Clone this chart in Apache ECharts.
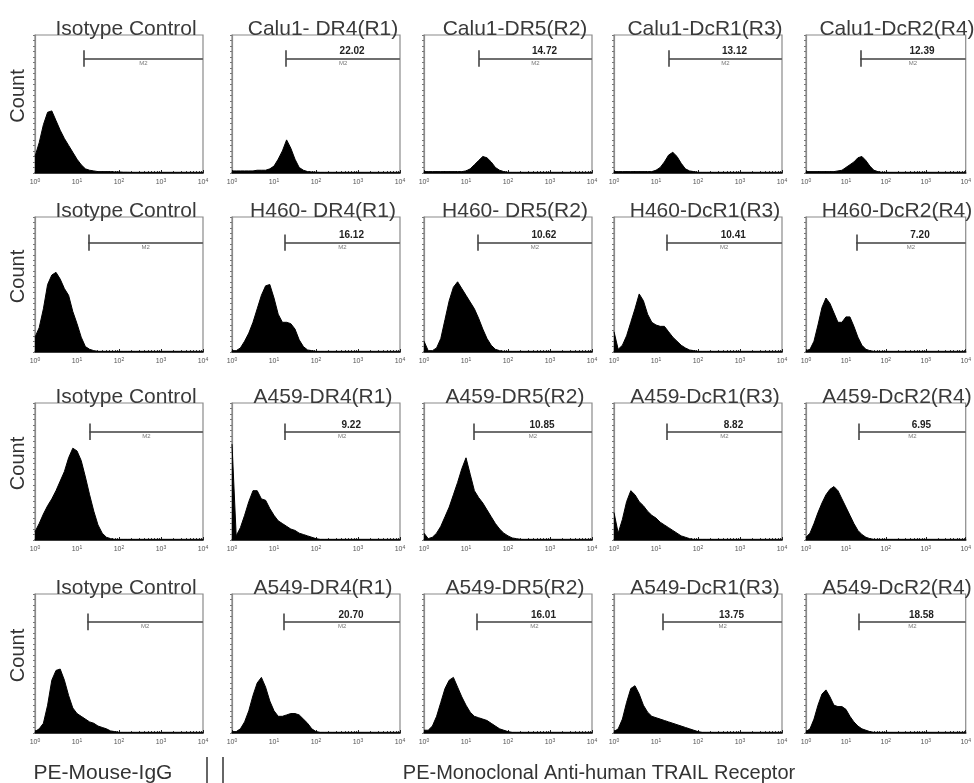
<!DOCTYPE html>
<html><head><meta charset="utf-8">
<script src="https://cdn.jsdelivr.net/npm/echarts@6/dist/echarts.min.js"></script>
<style>html,body{margin:0;padding:0;background:#fff}#c{width:974px;height:783px}</style>
</head><body><div id="c"></div><script>
// fluorescence channels (PE intensity), log spaced, plus axis end
const channels = [1, 1.259, 1.585, 1.995, 2.512, 3.162, 3.981, 5.012, 6.310, 7.943, 10, 12.59, 15.85, 19.95, 25.12, 31.62, 39.81, 50.12, 63.10, 79.43, 100, 125.9, 158.5, 199.5, 251.2, 316.2, 10000];
const xTickValues = [1, 10, 100, 1000, 10000];

// row titles
const titlesCalu1 = ['Isotype Control','Calu1- DR4(R1)','Calu1-DR5(R2)','Calu1-DcR1(R3)','Calu1-DcR2(R4)'];
const titlesH460  = ['Isotype Control','H460- DR4(R1)','H460- DR5(R2)','H460-DcR1(R3)','H460-DcR2(R4)'];
const titlesA459  = ['Isotype Control','A459-DR4(R1)','A459-DR5(R2)','A459-DcR1(R3)','A459-DcR2(R4)'];
const titlesA549  = ['Isotype Control','A549-DR4(R1)','A549-DR5(R2)','A549-DcR1(R3)','A549-DcR2(R4)'];

// percent positive in M2 gate
const pctCalu1 = ['', '22.02', '14.72', '13.12', '12.39'];
const pctH460  = ['', '16.12', '10.62', '10.41', '7.20'];
const pctA459  = ['', '9.22', '10.85', '8.82', '6.95'];
const pctA549  = ['', '20.70', '16.01', '13.75', '18.58'];

// M2 gate start (fluorescence)
const gateCalu1 = [14.5, 19.5, 20.4, 20.4, 22.9];
const gateH460  = [18.6, 18.2, 19.1, 17.8, 18.2];
const gateA459  = [20.0, 17.8, 15.5, 18.2, 21.4];
const gateA549  = [17.8, 17.4, 18.2, 14.8, 21.4];
const gateLevel = [83, 81, 79, 80]; // count level of gate bar per row
const gateLabel = 'M2';

// histogram counts (relative, % of panel full scale) per channel
const calu1Iso  = [12,22,35,44,45,38,31,25,20,15,10,6,3,2,1.5,1,1,1,1,0.8,0.8,0.6,0.6,0.5,0.5,0.5,0.5];
const calu1DR4  = [1.5,1.5,1.5,1.5,1.5,1.5,2,2,2,3,5,10,16,24,18,10,4,2,1,0.8,0.6,0.5,0.5,0.5,0.5,0.5,0.5];
const calu1DR5  = [1,1,1,1,1,1,1,1,1,1,1.5,3,6,9,12,11,8,4,2,1,0.5,0.5,0.5,0.5,0.5,0.5,0.5];
const calu1DcR1 = [1,1,1,1,1,1,1,1,1,1,2,4,8,13,15,12,7,3,1.5,1,0.5,0.5,0.5,0.5,0.5,0.5,0.5];
const calu1DcR2 = [1,1,1,1,1,1,1,1,1.5,2,4,6,8,11,12,9,5,2,1,0.5,0.5,0.5,0.5,0.5,0.5,0.5,0.5];

const h460Iso   = [11,18,32,50,57,59,54,47,42,30,21,11,4,2,1,0.5,0.5,0.5,0.5,0.5,0.5,0.5,0.5,0.5,0.5,0.5,0.5];
const h460DR4   = [1,1,3,8,14,22,32,42,49,50,40,28,22,22,21,17,9,4,1.5,1,0.5,0.5,0.5,0.5,0.5,0.5,0.5];
const h460DR5   = [8,1,1,3,10,24,38,48,52,47,42,37,32,25,17,10,5,2,1,0.5,0.5,0.5,0.5,0.5,0.5,0.5,0.5];
const h460DcR1  = [15,2,5,12,22,32,43,38,28,22,20,19,19,15,11,8,5,3,1.5,1,0.5,0.5,0.5,0.5,0.5,0.5,0.5];
const h460DcR2  = [1,2,8,20,33,40,36,29,22,22,26,26,19,11,5,2,1,0.5,0.5,0.5,0.5,0.5,0.5,0.5,0.5,0.5,0.5];

const a459Iso   = [6,12,19,25,30,36,43,50,60,67,65,58,46,33,21,11,5,2,1,0.5,0.5,0.5,0.5,0.5,0.5,0.5,0.5];
const a459DR4   = [70,3,9,18,28,36,36,30,29,23,18,14,12,10,8,7,5,4,3,2,1,0.5,0.5,0.5,0.5,0.5,0.5];
const a459DR5   = [5,1,2,5,10,17,24,33,42,52,60,48,36,31,27,22,17,12,8,5,3,1.5,1,0.5,0.5,0.5,0.5];
const a459DcR1  = [20,5,15,28,36,33,28,25,21,18,16,13,11,9,7,5,3,2,1,0.5,0.5,0.5,0.5,0.5,0.5,0.5,0.5];
const a459DcR2  = [2,5,12,20,27,33,37,39,36,30,24,18,12,7,4,2,1,0.5,0.5,0.5,0.5,0.5,0.5,0.5,0.5,0.5,0.5];

const a549Iso   = [1,3,7,20,38,45,46,38,27,18,14,12,10,8,7,5,4,3,1.5,1,0.5,0.5,0.5,0.5,0.5,0.5,0.5];
const a549DR4   = [1,1,3,8,16,27,36,40,33,23,16,12,12,13,14,14,13,10,7,3,1,0.5,0.5,0.5,0.5,0.5,0.5];
const a549DR5   = [2,2,5,12,22,32,38,40,33,26,20,15,12,11,10,9,7,5,3,2,1,0.5,0.5,0.5,0.5,0.5,0.5];
const a549DcR1  = [1,3,10,22,32,34,28,20,15,12,11,10,9,8,7,6,5,4,3,2,1,0.5,0.5,0.5,0.5,0.5,0.5];
const a549DcR2  = [1,3,10,20,28,31,26,20,19,19,17,12,8,5,3,2,1,0.5,0.5,0.5,0.5,0.5,0.5,0.5,0.5,0.5,0.5];

const rows = [
  {titles: titlesCalu1, pct: pctCalu1, gate: gateCalu1, hist: [calu1Iso, calu1DR4, calu1DR5, calu1DcR1, calu1DcR2]},
  {titles: titlesH460,  pct: pctH460,  gate: gateH460,  hist: [h460Iso, h460DR4, h460DR5, h460DcR1, h460DcR2]},
  {titles: titlesA459,  pct: pctA459,  gate: gateA459,  hist: [a459Iso, a459DR4, a459DR5, a459DcR1, a459DcR2]},
  {titles: titlesA549,  pct: pctA549,  gate: gateA549,  hist: [a549Iso, a549DR4, a549DR5, a549DcR1, a549DcR2]}
];

// layout
const colLeft = [35, 232, 424, 614, 806];
const colW = 168;
const rowTop = [35, 217, 403, 594];
const rowH = [138, 135, 137, 139];
const FONT = '"Liberation Sans", Arial, sans-serif';

const grid = [], xAxis = [], yAxis = [], series = [], title = [];
rows.forEach((row, r) => {
  row.hist.forEach((vals, c) => {
    const i = grid.length;
    grid.push({left: colLeft[c], top: rowTop[r], width: colW, height: rowH[r], show: true, borderColor: '#8a8a8a', borderWidth: 1.2, backgroundColor: 'transparent'});
    title.push({text: row.titles[c], left: colLeft[c] + colW / 2 + 2, top: rowTop[r] - 21, textAlign: 'center',
      textStyle: {fontFamily: FONT, fontSize: 21, fontWeight: 'normal', color: '#3a3a3a'}});
    xAxis.push({type: 'log', logBase: 10, min: xTickValues[0], max: xTickValues[xTickValues.length - 1], gridIndex: i,
      axisLine: {show: true, lineStyle: {color: '#111', width: 1.6}},
      axisTick: {show: true, inside: true, length: 3, lineStyle: {color: '#222'}},
      minorTick: {show: true, splitNumber: 9, length: 2, lineStyle: {color: '#444'}},
      splitLine: {show: false},
      axisLabel: {show: true, margin: 5, color: '#555',
        formatter: v => '{a|10}{b|' + Math.round(Math.log10(v)) + '}',
        rich: {a: {fontSize: 7, fontFamily: FONT, color: '#555'}, b: {fontSize: 5, fontFamily: FONT, color: '#555', verticalAlign: 'top', padding: [0, 0, 4, 0]}}}
    });
    yAxis.push({type: 'value', min: 0, max: 100, interval: 4, gridIndex: i,
      axisLine: {show: true, lineStyle: {color: '#8a8a8a', width: 1.2}},
      axisTick: {show: true, length: 2, lineStyle: {color: '#777'}},
      axisLabel: {show: false}, splitLine: {show: false}});
    const g = row.gate[c], gy = gateLevel[r];
    series.push({type: 'line', xAxisIndex: i, yAxisIndex: i, silent: true, animation: false,
      data: channels.map((x, k) => [x, vals[k]]),
      symbol: 'none', lineStyle: {color: '#000', width: 1}, areaStyle: {color: '#000', opacity: 1},
      markLine: {silent: true, animation: false, symbol: ['none', 'none'],
        lineStyle: {color: '#666', width: 1.6, type: 'solid'},
        label: {show: false},
        data: [
          [{coord: [g, gy], label: {show: row.pct[c] !== '', position: 'insideMiddleTop', formatter: row.pct[c], distance: 2,
             fontFamily: FONT, fontSize: 10, fontWeight: 'bold', color: '#222', padding: [0, 0, 0, 18]}},
           {coord: [xTickValues[xTickValues.length - 1], gy]}],
          [{coord: [g, gy], label: {show: true, position: 'insideMiddleBottom', formatter: gateLabel, distance: 2,
             fontFamily: FONT, fontSize: 6, color: '#777'}},
           {coord: [xTickValues[xTickValues.length - 1], gy]}],
          [{coord: [g, gy - 6], lineStyle: {color: '#444', width: 1.6}}, {coord: [g, gy + 6]}]
        ]}
    });
  });
});

const graphic = [];
rowTop.forEach((t, r) => {
  graphic.push({type: 'text', x: 18, y: t + rowH[r] / 2 - 8, rotation: Math.PI / 2,
    style: {text: 'Count', font: '20px ' + FONT, fill: '#333', textAlign: 'center', textVerticalAlign: 'middle'}});
});
graphic.push({type: 'text', x: 103, y: 773, style: {text: 'PE-Mouse-IgG', font: '21px ' + FONT, fill: '#333', textAlign: 'center', textVerticalAlign: 'middle'}});
graphic.push({type: 'text', x: 599, y: 773, style: {text: 'PE-Monoclonal Anti-human TRAIL Receptor', font: '20px ' + FONT, fill: '#333', textAlign: 'center', textVerticalAlign: 'middle'}});
graphic.push({type: 'line', shape: {x1: 207, y1: 757, x2: 207, y2: 783}, style: {stroke: '#333', lineWidth: 1.5}});
graphic.push({type: 'line', shape: {x1: 223, y1: 757, x2: 223, y2: 783}, style: {stroke: '#333', lineWidth: 1.5}});

const chart = echarts.init(document.getElementById('c'), null, {renderer: 'canvas'});
chart.setOption({animation: false, backgroundColor: '#fff', title, grid, xAxis, yAxis, series, graphic});
</script></body></html>
